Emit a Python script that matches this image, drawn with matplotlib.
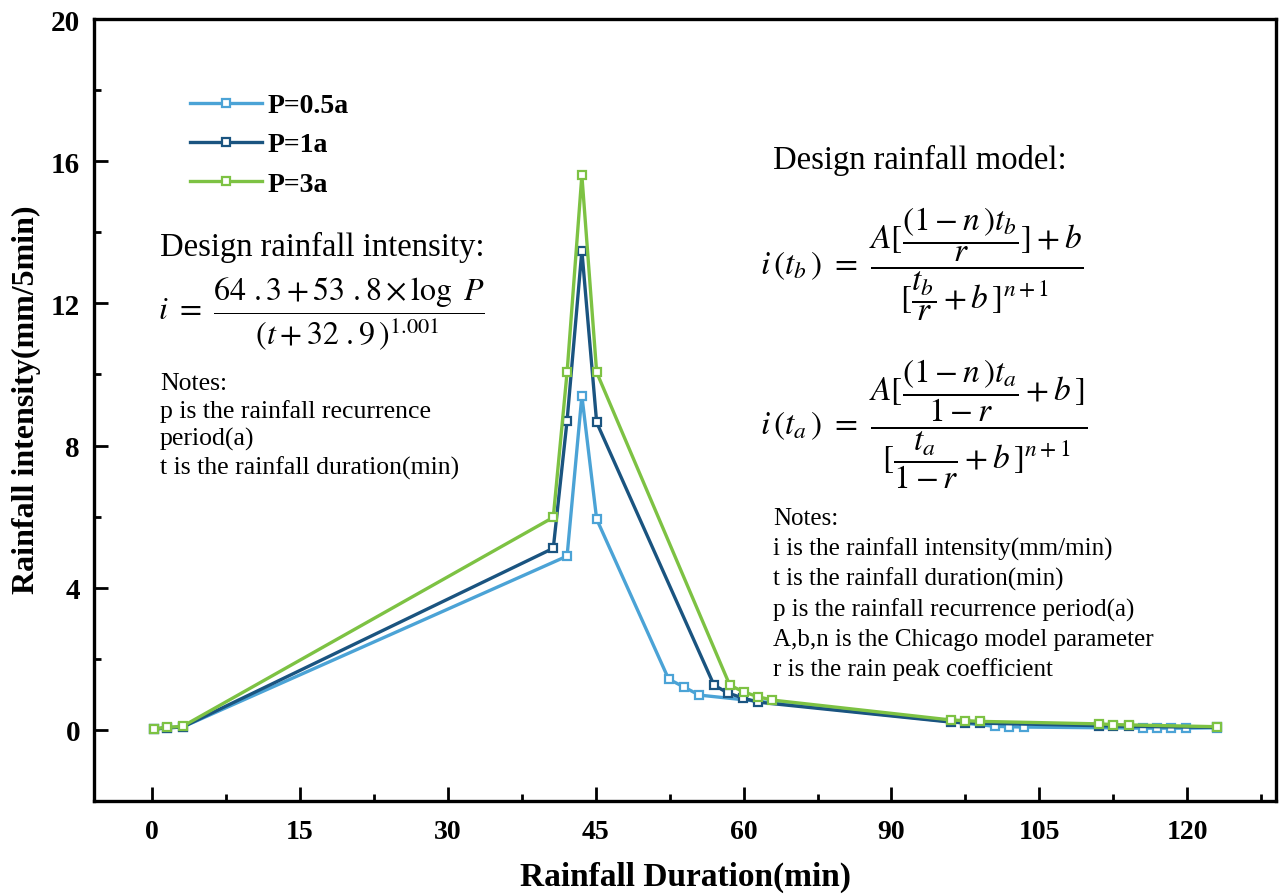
import matplotlib.pyplot as plt
from matplotlib.ticker import MultipleLocator

plt.rcParams['font.family'] = 'Liberation Serif'
plt.rcParams['mathtext.fontset'] = 'stix'

# positions on the (oddly labelled) duration axis and intensities
x_p05 = [0.2, 1.5, 3.1, 42.1, 43.6, 45.1, 52.4, 54.0, 55.5, 85.5, 86.9, 88.4,
         100.5, 101.9, 103.4, 104.9, 108.0]
y_p05 = [0.02, 0.06, 0.08, 4.89, 9.40, 5.93, 1.43, 1.20, 0.98, 0.10, 0.09, 0.08,
         0.05, 0.05, 0.05, 0.05, 0.06]

x_p1 = [0.2, 1.5, 3.1, 40.7, 42.1, 43.6, 45.1, 57.0, 58.4, 59.9, 61.5, 81.0, 82.5, 84.0,
        96.0, 97.5, 99.1, 108.0]
y_p1 = [0.02, 0.06, 0.08, 5.11, 8.70, 13.48, 8.65, 1.26, 1.04, 0.90, 0.78, 0.22, 0.20, 0.19,
        0.12, 0.11, 0.10, 0.07]

x_p3 = [0.2, 1.5, 3.1, 40.7, 42.1, 43.6, 45.1, 58.6, 60.0, 61.5, 62.9, 81.0, 82.5, 84.0,
        96.0, 97.5, 99.1, 108.0]
y_p3 = [0.03, 0.07, 0.10, 5.98, 10.06, 15.60, 10.06, 1.26, 1.07, 0.93, 0.84, 0.28, 0.26, 0.24,
        0.17, 0.15, 0.14, 0.09]

tick_pos = [0, 15, 30, 45, 60, 75, 90, 105]
tick_lab = ['0', '15', '30', '45', '60', '90', '105', '120']

fig = plt.figure(figsize=(12.79, 8.95), dpi=100)
ax = fig.add_axes([94 / 1279, 1 - 802 / 895, (1276 - 94) / 1279, (802 - 20) / 895])

estilo = dict(lw=2.4, marker='s', ms=6, mfc='white', mew=1.6)
ax.plot(x_p05, y_p05, color='#4ba3d6', label='P=0.5a', **estilo)
ax.plot(x_p1, y_p1, color='#1a5480', label='P=1a', **estilo)
ax.plot(x_p3, y_p3, color='#7dc243', label='P=3a', **estilo)

ax.set_xlim(-5.88, 114.0)
ax.set_ylim(-2, 20)
ax.set_xticks(tick_pos)
ax.set_xticklabels(tick_lab)
ax.xaxis.set_minor_locator(MultipleLocator(7.5))
ax.set_yticks(range(0, 21, 4))
ax.yaxis.set_minor_locator(MultipleLocator(2))
ax.tick_params(which='both', direction='in', width=2, top=False, right=False)
ax.tick_params(which='major', length=10)
ax.tick_params(which='minor', length=5)
ax.tick_params(axis='x', pad=13, labelsize=20)
ax.tick_params(axis='y', pad=10, labelsize=21)
for lab in ax.get_xticklabels() + ax.get_yticklabels():
    lab.set_fontweight('bold')
for s in ax.spines.values():
    s.set_linewidth(2.4)

ax.set_xlabel('Rainfall Duration(min)', fontsize=24, fontweight='bold', labelpad=12)
ax.set_ylabel('Rainfall intensity(mm/5min)', fontsize=23, fontweight='bold')
# la etiqueta del eje y va pegada al borde izquierdo
ax.yaxis.set_label_coords(-0.045, 0.515)

fig.legend(loc='upper left', bbox_to_anchor=(190 / 1279, 1 - 94 / 895), frameon=False,
           prop={'weight': 'bold', 'size': 20}, handlelength=2.6, handletextpad=0.2,
           labelspacing=0.49, borderpad=0, borderaxespad=0)

# texto de la izquierda
fig.text(160 / 1279, 1 - 247 / 895, 'Design rainfall intensity:', fontsize=23.5, va='center')
fig.text(158 / 1279, 1 - 314 / 895,
         r'$i\ =\ \dfrac{64\ .3+53\ .8\times\log\ P}{(t+32\ .9\,)^{1.001}}$',
         fontsize=23, va='center')
fig.text(160 / 1279, 1 - 373 / 895,
         'Notes:\np is the rainfall recurrence\nperiod(a)\nt is the rainfall duration(min)',
         fontsize=18.5, va='top', linespacing=1.28)

# texto de la derecha
fig.text(773 / 1279, 1 - 160 / 895, 'Design rainfall model:', fontsize=23.5, va='center')
fig.text(760 / 1279, 1 - 264 / 895,
         r'$i\,(t_b\,)\ =\ \dfrac{A[\dfrac{(1-n\,)t_b}{r}]+b}{[\dfrac{t_b}{r}+b\,]^{n+1}}$',
         fontsize=24, va='center')
fig.text(760 / 1279, 1 - 424 / 895,
         r'$i\,(t_a\,)\ =\ \dfrac{A[\dfrac{(1-n\,)t_a}{1-r}+b\,]}{[\dfrac{t_a}{1-r}+b\,]^{n+1}}$',
         fontsize=24, va='center')
fig.text(773 / 1279, 1 - 508 / 895,
         'Notes:\ni is the rainfall intensity(mm/min)\nt is the rainfall duration(min)\n'
         'p is the rainfall recurrence period(a)\nA,b,n is the Chicago model parameter\n'
         'r is the rain peak coefficient',
         fontsize=18, va='top', linespacing=1.4)

plt.savefig('out.png', dpi=100)
